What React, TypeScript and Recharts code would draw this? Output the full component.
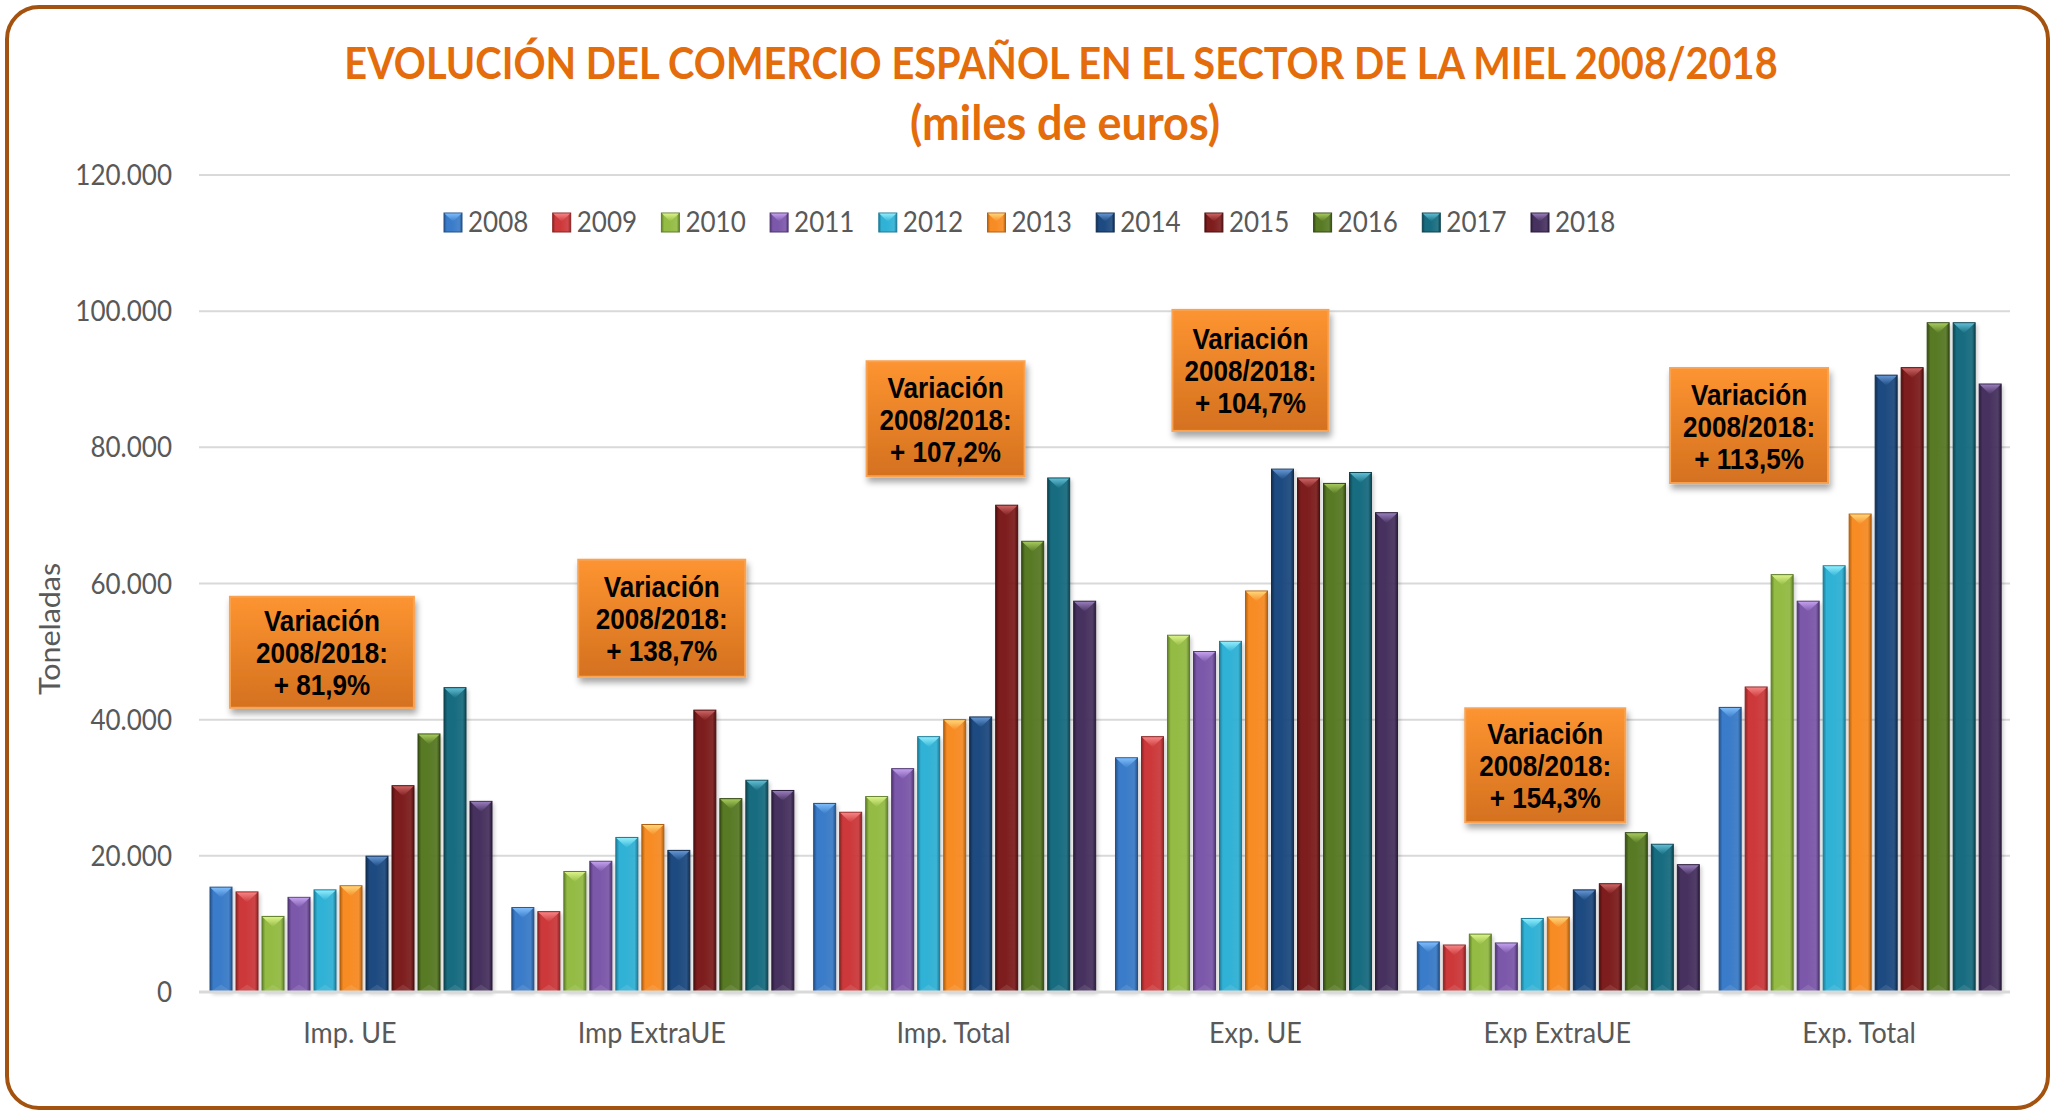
import React from "react";
import { BarChart, Bar, XAxis, YAxis, CartesianGrid, Legend, ReferenceDot, Label } from "recharts";

const categories = ["Imp. UE", "Imp ExtraUE", "Imp. Total", "Exp. UE", "Exp ExtraUE", "Exp. Total"];
const years = ["2008", "2009", "2010", "2011", "2012", "2013", "2014", "2015", "2016", "2017", "2018"];

// miles de euros, one array per year, in category order
const v2008 = [15400, 12400, 27700, 34400, 7350, 41800];
const v2009 = [14700, 11800, 26400, 37500, 6900, 44800];
const v2010 = [11100, 17700, 28700, 52400, 8500, 61300];
const v2011 = [13900, 19200, 32800, 50000, 7200, 57400];
const v2012 = [15000, 22700, 37500, 51500, 10800, 62600];
const v2013 = [15600, 24600, 40000, 58900, 11000, 70200];
const v2014 = [19950, 20800, 40400, 76800, 15000, 90600];
const v2015 = [30300, 41400, 71500, 75500, 15900, 91700];
const v2016 = [37900, 28400, 66200, 74700, 23400, 98300];
const v2017 = [44700, 31100, 75500, 76300, 21700, 98300];
const v2018 = [28000, 29600, 57400, 70400, 18700, 89300];
const seriesValues = [v2008, v2009, v2010, v2011, v2012, v2013, v2014, v2015, v2016, v2017, v2018];

const yTicks = [0, 20000, 40000, 60000, 80000, 100000, 120000];
const variations = ["+ 81,9%", "+ 138,7%", "+ 107,2%", "+ 104,7%", "+ 154,3%", "+ 113,5%"];

// base / light / dark shades per year
const baseColors = ["#3A7CC9", "#CD393B", "#94BC44", "#7C58AA", "#30B2D6", "#F88C24", "#1D4A80", "#7E1D1D", "#587A25", "#176C80", "#47325F"];
const lightColors = ["#7DBBFA", "#F58484", "#DAF288", "#C3A0EE", "#8FEDFC", "#FFD67A", "#6496D4", "#CC6464", "#A6C95C", "#60BDD4", "#987CBC"];
const darkColors = ["#24528A", "#8C2425", "#5F7F28", "#4F3672", "#1C7C97", "#B2610F", "#112D50", "#4E1010", "#354B13", "#0D4450", "#2B1D3C"];

// annotation box placement (value of box centre, pixel offsets / sizes)
const boxLayout = [
  { y: 49900, dx: -28, w: 184, h: 111 },
  { y: 54900, dx: 10, w: 167, h: 117 },
  { y: 84200, dx: -8, w: 158, h: 115 },
  { y: 91300, dx: -5, w: 156, h: 121 },
  { y: 33300, dx: -12, w: 160, h: 114 },
  { y: 83200, dx: -110, w: 158, h: 115 },
];

const data = categories.map((name, ci) => {
  const row: Record<string, any> = { name };
  years.forEach((yr, yi) => {
    row[yr] = seriesValues[yi][ci];
  });
  return row;
});

const fmt = (v: number) => String(v).replace(/\B(?=(\d{3})+(?!\d))/g, ".");
const GREY = "#595959";

const Bar3D = (props: any) => {
  const { x, y, width, height, sid } = props;
  if (!height || height <= 0) return null;
  const tri = Math.min(width * 0.48, height);
  return (
    <g>
      <rect x={x + 2} y={y + 2} width={width} height={height} fill="#000" opacity={0.22} filter="url(#bshadow)" />
      <rect x={x} y={y} width={width} height={height} fill={`url(#body${sid})`} stroke={darkColors[sid]} strokeWidth={1} />
      <polygon points={`${x + 0.5},${y + 0.5} ${x + width - 0.5},${y + 0.5} ${x + width / 2},${y + tri}`} fill={`url(#tri${sid})`} />
      <polygon
        points={`${x + 1},${y + height - 0.5} ${x + width - 1},${y + height - 0.5} ${x + width / 2},${y + height - tri * 0.7}`}
        fill="#fff"
        opacity={0.1}
      />
    </g>
  );
};

const BarIcon = ({ x, y, w, h, i }: any) => (
  <g>
    <rect x={x} y={y} width={w} height={h} fill={`url(#body${i})`} stroke={darkColors[i]} strokeWidth={1} />
    <polygon points={`${x + 0.5},${y + 0.5} ${x + w - 0.5},${y + 0.5} ${x + w / 2},${y + w * 0.48}`} fill={`url(#tri${i})`} />
  </g>
);

const VarBox = (props: any) => {
  const { cx, cy, dx, w, h, text } = props;
  if (cx == null || cy == null) return null;
  const mx = cx + dx;
  const lines = ["Variación", "2008/2018:", text];
  const offs = [-21, 11, 43];
  return (
    <g>
      <rect x={mx - w / 2} y={cy - h / 2} width={w} height={h} fill="url(#boxGrad)" stroke="#F8A352" strokeWidth={2} filter="url(#boxShadow)" />
      {lines.map((t, i) => (
        <text
          key={i}
          transform={`translate(${mx},${cy + offs[i]}) scale(0.9,1)`}
          textAnchor="middle"
          fontFamily="'Liberation Sans', Arial, sans-serif"
          fontWeight="bold"
          fontSize={29}
          fill="#000"
        >
          {t}
        </text>
      ))}
    </g>
  );
};

const YTick = ({ x, y, payload }: any) => (
  <text transform={`translate(${x},${y}) scale(0.93,1)`} textAnchor="end" dy="0.36em" fill={GREY} fontFamily="Lato" fontSize={28}>
    {fmt(payload.value)}
  </text>
);

const XTick = ({ x, y, payload }: any) => (
  <text transform={`translate(${x},${y + 51}) scale(0.93,1)`} textAnchor="middle" fill={GREY} fontFamily="Lato" fontSize={29}>
    {payload.value}
  </text>
);

const renderLegend = () => (
  <svg width={2056} height={40} style={{ display: "block" }}>
    {years.map((yr, i) => {
      const x = 444 + i * 108.7;
      return (
        <g key={yr}>
          <BarIcon x={x} y={10} w={18} h={19} i={i} />
          <text transform={`translate(${x + 24},29) scale(0.93,1)`} fontFamily="Lato" fontSize={28} fill={GREY}>
            {yr}
          </text>
        </g>
      );
    })}
  </svg>
);

const App = () => {
  return (
    <div style={{ position: "relative", width: 2056, height: 1110, background: "#fff", overflow: "hidden" }}>
      <style>{`body{margin:0;}`}</style>
      <div
        style={{
          position: "absolute",
          left: 5,
          top: 5,
          width: 2045,
          height: 1105,
          border: "4px solid #A3520F",
          borderRadius: 34,
          boxSizing: "border-box",
        }}
      />
      <div style={{ position: "absolute", left: 0, top: 0 }}>
        <BarChart
          width={2056}
          height={1110}
          data={data}
          margin={{ top: 175, right: 46, bottom: 58, left: 0 }}
          barGap={4}
          barCategoryGap={11}
        >
          <defs>
            {baseColors.map((c, i) => (
              <linearGradient key={`b${i}`} id={`body${i}`} x1="0" y1="0" x2="1" y2="0">
                <stop offset="0%" stopColor={darkColors[i]} />
                <stop offset="15%" stopColor={c} />
                <stop offset="45%" stopColor={c} />
                <stop offset="85%" stopColor={c} stopOpacity={0.92} />
                <stop offset="100%" stopColor={darkColors[i]} />
              </linearGradient>
            ))}
            {lightColors.map((c, i) => (
              <linearGradient key={`t${i}`} id={`tri${i}`} x1="0" y1="0" x2="0" y2="1">
                <stop offset="0%" stopColor={c} />
                <stop offset="100%" stopColor={baseColors[i]} />
              </linearGradient>
            ))}
            <linearGradient id="boxGrad" x1="0" y1="0" x2="0" y2="1">
              <stop offset="0%" stopColor="#FD9431" />
              <stop offset="100%" stopColor="#D4711F" />
            </linearGradient>
            <filter id="bshadow" x="-50%" y="-10%" width="200%" height="120%">
              <feGaussianBlur stdDeviation="2" />
            </filter>
            <filter id="boxShadow" x="-20%" y="-20%" width="140%" height="150%">
              <feDropShadow dx="2" dy="5" stdDeviation="3" floodColor="#000" floodOpacity="0.35" />
            </filter>
          </defs>
          <CartesianGrid vertical={false} stroke="#D9D9D9" strokeWidth={2} />
          <XAxis
            dataKey="name"
            height={60}
            tickLine={false}
            tickSize={0}
            tickMargin={0}
            axisLine={{ stroke: "#D9D9D9", strokeWidth: 3 }}
            tick={<XTick />}
            interval={0}
          />
          <YAxis
            width={199}
            domain={[0, 120000]}
            ticks={yTicks}
            axisLine={false}
            tickLine={false}
            tickSize={0}
            tickMargin={27}
            tick={<YTick />}
            interval={0}
          >
            <Label
              content={() => (
                <text
                  transform="translate(50,629) rotate(-90) scale(1.05,1)"
                  textAnchor="middle"
                  dy="0.36em"
                  fill={GREY}
                  fontFamily="Lato"
                  fontSize={29}
                >
                  Toneladas
                </text>
              )}
            />
          </YAxis>
          <Legend
            layout="vertical"
            verticalAlign="middle"
            align="center"
            wrapperStyle={{ top: 203, left: 0, width: 2056, height: 40 }}
            content={renderLegend}
          />
          {years.map((yr, i) => (
            <Bar key={yr} dataKey={yr} name={yr} fill={baseColors[i]} isAnimationActive={false} shape={(p: any) => <Bar3D {...p} sid={i} />} />
          ))}
          {categories.map((c, i) => (
            <ReferenceDot
              key={c}
              x={c}
              y={boxLayout[i].y}
              r={1}
              ifOverflow="visible"
              shape={(p: any) => <VarBox {...p} dx={boxLayout[i].dx} w={boxLayout[i].w} h={boxLayout[i].h} text={variations[i]} />}
            />
          ))}
        </BarChart>
      </div>
      <svg width={2056} height={160} style={{ position: "absolute", left: 0, top: 0, pointerEvents: "none" }}>
        <text transform="translate(1061,79) scale(0.925,1)" textAnchor="middle" fontFamily="Lato" fontWeight="bold" fontSize={43} fill="#E46C0A">
          EVOLUCIÓN DEL COMERCIO ESPAÑOL EN EL SECTOR DE LA MIEL 2008/2018
        </text>
        <text transform="translate(1065,140) scale(1.0,1.05)" textAnchor="middle" fontFamily="Lato" fontWeight="bold" fontSize={45} fill="#E46C0A">
          (miles de euros)
        </text>
      </svg>
    </div>
  );
};

export default App;
